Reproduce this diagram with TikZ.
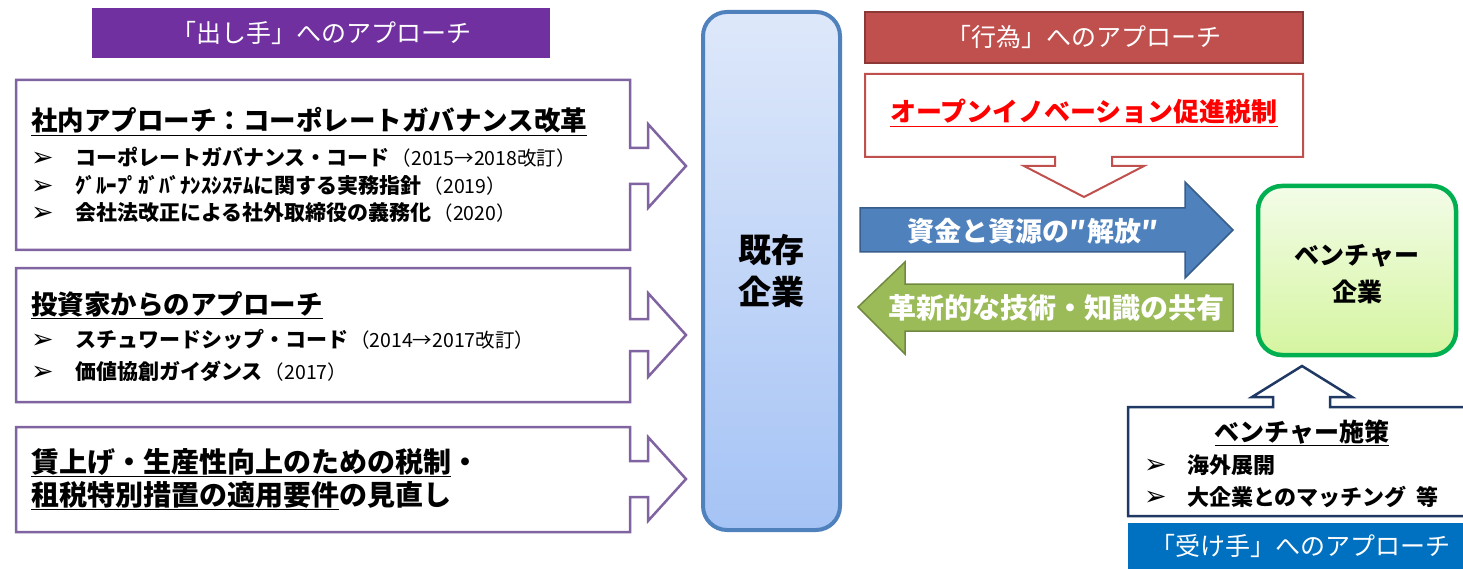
\documentclass[tikz,border=0pt]{standalone}
\usepackage{fontspec}
\setmainfont{Noto Sans CJK JP}
\newfontfamily\dv{DejaVu Sans}
\definecolor{ttlpurple}{HTML}{7030A0}
\definecolor{boxpurple}{RGB}{128,100,162}
\definecolor{ttlred}{HTML}{C0504D}
\definecolor{ttlredline}{HTML}{8C3836}
\definecolor{arrblue}{HTML}{4F81BD}
\definecolor{arrblueline}{HTML}{385D8A}
\definecolor{arrgreen}{HTML}{9BBB59}
\definecolor{arrgreenline}{HTML}{71893F}
\definecolor{kztop}{HTML}{DEE8FA}
\definecolor{kzbot}{HTML}{A5C3F5}
\definecolor{vtop}{HTML}{F3FCE8}
\definecolor{vbot}{HTML}{D5F5A0}
\definecolor{vline}{HTML}{00B050}
\definecolor{navy}{HTML}{1F3864}
\definecolor{ttlblue}{HTML}{0070C0}
\newcommand\fsz[1]{\fontsize{#1}{#1}\selectfont}
\newcommand\bul{{\dv\fsz{27}➢}}
\newcommand\pn[1]{\hspace{2pt}{\mdseries\fsz{19.5}#1}}
\tikzset{
  lbox/.style={draw=boxpurple, line width=2.5pt, fill=white, line join=miter},
  ttl/.style={inner sep=0pt, text=white, font=\fsz{25}},
  hd/.style={inner sep=0pt, anchor=base west, font=\bfseries\fsz{26.5}},
  bl/.style={inner sep=0pt, anchor=base west, font=\bfseries\fsz{21}},
  bm/.style={inner sep=0pt, anchor=base west},
  ctr/.style={inner sep=0pt, font=\bfseries\fsz{33}},
}
\begin{document}
\begin{tikzpicture}[x=1pt,y=-1pt]
\useasboundingbox (0,0) rectangle (1463,569);
\clip (0,0) rectangle (1463,569);

% ---- title boxes
\node[ttl, fill=ttlpurple, minimum width=458pt, minimum height=50pt] (tp) at (321,33) {「出し手」へのアプローチ};
\node[ttl, fill=ttlred, draw=ttlredline, line width=1.5pt, minimum width=438pt, minimum height=51pt] (tr) at (1084,37.5) {「行為」へのアプローチ};
\node[ttl, fill=ttlblue, anchor=north west, minimum width=345pt, minimum height=48pt] (tb) at (1128,523) {};
\node[ttl] (tbt) at (1300,546) {「受け手」へのアプローチ};

% ---- left boxes with arrows
\draw[lbox] (16,80) -- (630,80) -- (630,148) -- (648,148) -- (648,124) -- (686,166) -- (648,208) -- (648,184) -- (630,184) -- (630,250) -- (16,250) -- cycle;
\draw[lbox] (16,268) -- (630,268) -- (630,319) -- (648,319) -- (648,293) -- (686,335) -- (648,377) -- (648,351) -- (630,351) -- (630,402) -- (16,402) -- cycle;
\draw[lbox] (16,427) -- (630,427) -- (630,461) -- (648,461) -- (648,437) -- (686,479) -- (648,521) -- (648,497) -- (630,497) -- (630,532) -- (16,532) -- cycle;

% box 1 text
\node[hd] (h1) at (31,131) {\underline{社内アプローチ：コーポレートガバナンス改革}};
\node[bm] (b11) at (31,167) {\bul};
\node[bl] (l11) at (75,166) {コーポレートガバナンス・コード\pn{（2015→2018改訂）}};
\node[bm] (b12) at (31,195) {\bul};
\node[bl] (l12) at (75,194) {ｸﾞﾙｰﾌﾟｶﾞﾊﾞﾅﾝｽｼｽﾃﾑに関する実務指針\pn{（2019）}};
\node[bm] (b13) at (31,222) {\bul};
\node[bl] (l13) at (75,221) {会社法改正による社外取締役の義務化\pn{（2020）}};

% box 2 text
\node[hd] (h2) at (31,314) {\underline{投資家からのアプローチ}};
\node[bm] (b21) at (31,348) {\bul};
\node[bl] (l21) at (75,347) {スチュワードシップ・コード\pn{（2014→2017改訂）}};
\node[bm] (b22) at (31,380) {\bul};
\node[bl] (l22) at (75,379) {価値協創ガイダンス\pn{（2017）}};

% box 3 text
\node[hd, font=\bfseries\fsz{28}] (h31) at (31,472) {\underline{賃上げ・生産性向上のための税制}・};
\node[hd, font=\bfseries\fsz{28}] (h32) at (31,505) {\underline{租税特別措置の適用要件}の見直し};

% ---- central box
\node[draw=arrblue, line width=4pt, rounded corners=24pt, top color=kztop, bottom color=kzbot,
      minimum width=137pt, minimum height=518pt] (kz) at (771.5,271) {};
\node[ctr] (kz1) at (771.5,250) {既存};
\node[ctr] (kz2) at (771.5,292) {企業};

% ---- red box with down arrow
\draw[draw=ttlred, line width=2pt, fill=white] (865,74) -- (1303,74) -- (1303,157) -- (1112,157) -- (1112,166) -- (1144,166) -- (1084,197) -- (1024,166) -- (1055,166) -- (1055,157) -- (865,157) -- cycle;
\node[inner sep=0pt, text=red, font=\bfseries\fsz{26}] (oi) at (1084,113) {\underline{オープンイノベーション促進税制}};

% ---- blue and green arrows
\draw[fill=arrblue, draw=arrblueline, line width=1.5pt] (860,208) -- (1185,208) -- (1185,182) -- (1233,230) -- (1185,278) -- (1185,252) -- (860,252) -- cycle;
\node[inner sep=0pt, text=white, font=\bfseries\fsz{27}] (ka) at (1033,231) {資金と資源の″解放″};
\draw[fill=arrgreen, draw=arrgreenline, line width=1.5pt] (1233,284) -- (905,284) -- (905,262) -- (858,307) -- (905,354) -- (905,331) -- (1233,331) -- cycle;
\node[inner sep=0pt, text=white, font=\bfseries\fsz{28}] (kk) at (1056,308) {革新的な技術・知識の共有};

% ---- venture box
\node[draw=vline, line width=4.5pt, rounded corners=24pt, top color=vtop, bottom color=vbot,
      minimum width=198pt, minimum height=169pt] (vc) at (1357,270.5) {};
\node[inner sep=0pt, font=\bfseries\fsz{25}] (vc1) at (1357,256) {ベンチャー};
\node[inner sep=0pt, font=\bfseries\fsz{25}] (vc2) at (1357,292) {企業};

% ---- venture policy box with up arrow
\draw[draw=navy, line width=2.5pt, fill=white] (1475,407) -- (1330,407) -- (1330,397) -- (1352,397) -- (1302,366) -- (1252,397) -- (1273,397) -- (1273,407) -- (1128,407) -- (1128,516) -- (1475,516);
\node[inner sep=0pt, font=\bfseries\fsz{25}] (vs) at (1302,433) {\underline{ベンチャー施策}};
\node[bm] (b41) at (1144,473) {\bul};
\node[bl, font=\bfseries\fsz{22}] (l41) at (1187,473) {海外展開};
\node[bm] (b42) at (1144,505) {\bul};
\node[bl, font=\bfseries\fsz{22}] (l42) at (1187,505) {大企業とのマッチング\hspace{10pt}等};
\end{tikzpicture}
\end{document}
